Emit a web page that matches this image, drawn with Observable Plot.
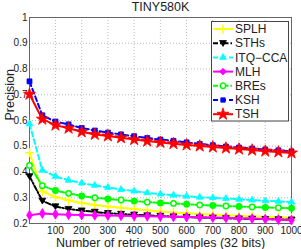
<!DOCTYPE html>
<html><head><meta charset="utf-8">
<script src="https://cdn.jsdelivr.net/npm/d3@7"></script>
<script src="https://cdn.jsdelivr.net/npm/@observablehq/plot@0.6"></script>
<style>body{margin:0;background:#fff}#chart{width:301px;height:249px}</style>
</head><body><div id="chart"></div>
<script>
const samples = [1,50,100,150,200,250,300,350,400,450,500,550,600,650,700,750,800,850,900,950,1000];
const xTicks = [100,200,300,400,500,600,700,800,900,1000];
const yTicks = [0.2,0.3,0.4,0.5,0.6,0.7,0.8,0.9,1];
const methods = ["SPLH","STHs","ITQ−CCA","MLH","BREs","KSH","TSH"];
const splh = [0.475,0.325,0.303,0.290,0.280,0.272,0.266,0.261,0.256,0.251,0.247,0.243,0.240,0.237,0.235,0.232,0.230,0.228,0.226,0.224,0.222];
const sths = [0.383,0.288,0.266,0.256,0.250,0.245,0.240,0.237,0.234,0.231,0.229,0.227,0.225,0.223,0.222,0.220,0.219,0.218,0.217,0.216,0.215];
const itq = [0.587,0.407,0.383,0.368,0.357,0.348,0.340,0.332,0.326,0.319,0.314,0.310,0.306,0.302,0.300,0.297,0.294,0.291,0.288,0.286,0.283];
const mlh = [0.232,0.239,0.236,0.234,0.233,0.232,0.231,0.230,0.229,0.228,0.227,0.226,0.225,0.224,0.223,0.222,0.220,0.219,0.217,0.215,0.213];
const bres = [0.425,0.347,0.328,0.317,0.307,0.300,0.295,0.291,0.287,0.283,0.280,0.278,0.275,0.272,0.270,0.268,0.266,0.264,0.262,0.261,0.259];
const ksh = [0.752,0.620,0.596,0.585,0.571,0.561,0.553,0.546,0.539,0.532,0.526,0.521,0.515,0.509,0.504,0.499,0.495,0.491,0.487,0.484,0.480];
const tsh = [0.702,0.605,0.582,0.570,0.556,0.546,0.540,0.533,0.526,0.520,0.515,0.510,0.505,0.501,0.497,0.493,0.489,0.485,0.481,0.478,0.474];
const values = [splh, sths, itq, mlh, bres, ksh, tsh];

const triangleDown = {draw(ctx, size){const s=Math.sqrt(size);ctx.moveTo(0,s*0.6);ctx.lineTo(s*0.65,-s*0.5);ctx.lineTo(-s*0.65,-s*0.5);ctx.closePath();}};
const styles = [
  {color:"#ffff00", dash:null, symbol:"plus", fill:"none", r:3.0},
  {color:"#000000", dash:"5,2,1.5,2", symbol:triangleDown, fill:"#000000", r:3.0},
  {color:"#00ffff", dash:"5,3", symbol:"triangle2", fill:"#00ffff", r:3.2},
  {color:"#ff00ff", dash:null, symbol:"diamond", fill:"#ff00ff", r:3.0},
  {color:"#00ff00", dash:"5,2,1.5,2", symbol:"circle", fill:"open", r:2.7},
  {color:"#0000ff", dash:"5,3", symbol:"square", fill:"#0000ff", r:2.8},
  {color:"#ff0000", dash:null, symbol:"star", fill:"#ff0000", r:3.8}
];
const data = methods.map((m,i)=>samples.map((x,j)=>({method:m, x, y:values[i][j]})));

const marks = [
  Plot.gridX(xTicks,{stroke:"#bbb", strokeOpacity:1, strokeDasharray:"1,2"}),
  Plot.gridY(yTicks,{stroke:"#bbb", strokeOpacity:1, strokeDasharray:"1,2"}),
  Plot.frame({stroke:"#666"}),
  Plot.axisX({ticks:xTicks, tickSize:0, tickPadding:3, label:null, fontSize:10, tickFormat:d=>String(d)}),
  Plot.axisY({ticks:yTicks, tickSize:0, tickPadding:2, label:null, fontSize:10, tickFormat:d=> d===1?"1":d.toFixed(1)}),
  Plot.text(["TINY580K"],{frameAnchor:"top", dy:-15, fontSize:12.5, text:d=>d}),
  Plot.text(["Number of retrieved samples (32 bits)"],{frameAnchor:"bottom", dy:23, fontSize:12.5, text:d=>d}),
  Plot.text(["Precision"],{frameAnchor:"left", dx:-20, rotate:-90, fontSize:12.5, text:d=>d})
];
data.forEach((d,i)=>{
  const st = styles[i];
  marks.push(Plot.line(d,{x:"x", y:"y", stroke:st.color, strokeWidth:2, strokeDasharray:st.dash}));
  if (st.fill === "open") {
    marks.push(Plot.dot(d,{x:"x", y:"y", symbol:"circle", r:st.r, stroke:st.color, strokeWidth:1.5, fill:(p)=> p.x%100===0 ? st.color : "white"}));
  } else if (st.fill === "none") {
    marks.push(Plot.dot(d,{x:"x", y:"y", symbol:st.symbol, r:st.r, stroke:st.color, strokeWidth:1.5}));
  } else {
    marks.push(Plot.dot(d,{x:"x", y:"y", symbol:st.symbol, r:st.r, fill:st.fill, stroke:st.color, strokeWidth:0.8}));
  }
});

const svg = Plot.plot({
  width:301, height:249,
  marginLeft:29, marginRight:10, marginTop:17, marginBottom:26,
  x:{domain:[1,1000]},
  y:{domain:[0.2,1]},
  style:{fontFamily:"'Liberation Sans', Arial, sans-serif", fontSize:"10px", color:"#222", background:"#fff"},
  marks
});

// legend box
const g = d3.select(svg).append("g").attr("font-family","'Liberation Sans', Arial, sans-serif").attr("font-size","12px").attr("text-anchor","start");
g.append("rect").attr("x",211.5).attr("y",21.5).attr("width",77).attr("height",99.5).attr("fill","white").attr("stroke","#444");
methods.forEach((m,i)=>{
  const st = styles[i];
  const cy = 29 + i*14.2;
  g.append("line").attr("x1",213).attr("x2",233).attr("y1",cy).attr("y2",cy)
    .attr("stroke",st.color).attr("stroke-width",2).attr("stroke-dasharray",st.dash);
  const sym = typeof st.symbol === "string" ? ({plus:d3.symbolPlus, triangle2:d3.symbolTriangle2, diamond:d3.symbolDiamond2, circle:d3.symbolCircle, square:d3.symbolSquare2, star:d3.symbolStar})[st.symbol] : st.symbol;
  const size = Math.PI*st.r*st.r;
  const p = g.append("path").attr("d", d3.symbol(sym, size)()).attr("transform",`translate(223,${cy})`);
  if (st.fill==="open") p.attr("fill","white").attr("stroke",st.color).attr("stroke-width",1.5);
  else if (st.fill==="none") p.attr("fill","none").attr("stroke",st.color).attr("stroke-width",1.5);
  else p.attr("fill",st.fill).attr("stroke",st.color).attr("stroke-width",0.8);
  g.append("text").attr("x",235).attr("y",cy).attr("dy","0.35em").attr("fill","#222").text(m);
});
document.getElementById("chart").appendChild(svg);
</script>
</body></html>
